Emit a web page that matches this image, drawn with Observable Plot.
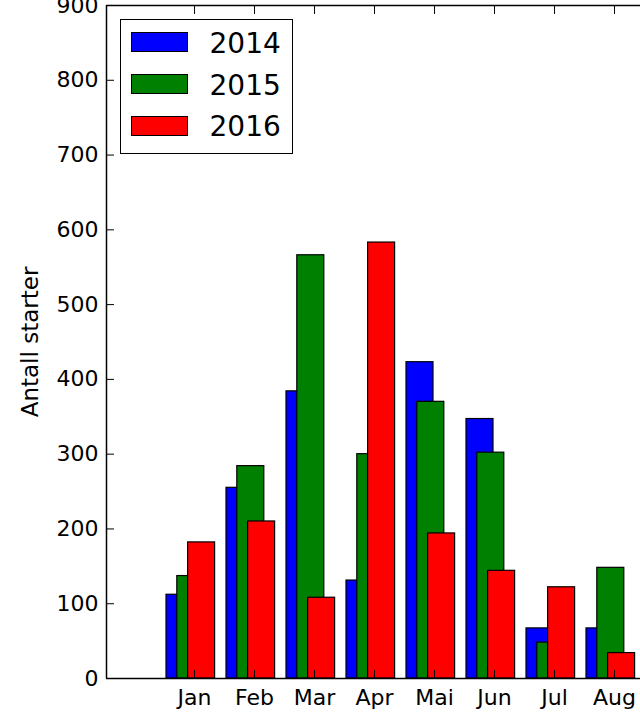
<!DOCTYPE html>
<html>
<head>
<meta charset="utf-8">
<script src="https://cdn.jsdelivr.net/npm/d3@7"></script>
<script src="https://cdn.jsdelivr.net/npm/@observablehq/plot@0.6"></script>
<style>
  body { margin: 0; background: #fff; }
  #wrap { position: relative; width: 640px; height: 713px; overflow: hidden; font-family: "DejaVu Sans", sans-serif; }
  .lg-box { position: absolute; box-sizing: border-box; border: 1.5px solid #000; background: #fff; }
  .lg-patch { position: absolute; box-sizing: border-box; border: 1.5px solid #000; }
  .lg-text { position: absolute; font-size: 28px; line-height: 28px; color: #000; white-space: nowrap; }
</style>
</head>
<body>
<div id="wrap"></div>
<script>
// ---- data ----
const months = ["Jan", "Feb", "Mar", "Apr", "Mai", "Jun", "Jul", "Aug"];
const years = ["2014", "2015", "2016"];
const colors = ["#0000ff", "#008000", "#ff0000"];
const v2014 = [112, 255, 384, 131, 423, 347, 67, 67];
const v2015 = [137, 284, 566, 300, 370, 302, 48, 148];
const v2016 = [182, 210, 108, 583, 194, 144, 122, 34];
const yTicks = [0, 100, 200, 300, 400, 500, 600, 700, 800, 900];
const yLabel = "Antall starter";

// ---- layout (style) ----
const barWidth = 0.45;
const barOffset = 0.18;
const tickShift = 0.467;

const series = [v2014, v2015, v2016];
const data = [];
series.forEach((vals, s) => {
  vals.forEach((v, i) => {
    const m = i + 1;
    data.push({year: years[s], month: months[i], x1: m + s * barOffset, x2: m + s * barOffset + barWidth, value: v});
  });
});
const xTicks = months.map((_, i) => i + 1 + tickShift);
const monthAt = new Map(xTicks.map((t, i) => [t, months[i]]));

const W = 640, H = 713, ML = 106, MT = 5, MB = 35;
const pxPerUnit = 60;

const chart = Plot.plot({
  width: W,
  height: H,
  marginLeft: ML,
  marginRight: 0,
  marginTop: MT,
  marginBottom: MB,
  style: {fontFamily: "DejaVu Sans", fontSize: "22px", color: "#000", background: "#fff"},
  x: {domain: [0, (W - ML) / pxPerUnit]},
  y: {domain: [0, 900]},
  color: {domain: years, range: colors},
  marks: [
    Plot.rectY(data, {x1: "x1", x2: "x2", y1: 0, y2: "value", fill: "year", stroke: "#000", strokeWidth: 1.2}),
    Plot.ruleX([0], {stroke: "#000", strokeWidth: 1.5}),
    Plot.ruleY([0, 900], {stroke: "#000", strokeWidth: 1.5}),
    Plot.axisY({ticks: yTicks, tickSize: -8, tickPadding: 16, tickFormat: d => String(d), label: null, stroke: "#000", strokeOpacity: 1}),
    Plot.axisX({anchor: "bottom", ticks: xTicks, tickSize: -8, tickPadding: 18.4, tickFormat: d => monthAt.get(d) ?? "", label: null, strokeOpacity: 1}),
    Plot.axisX({anchor: "top", ticks: xTicks, tickSize: -8, tickFormat: () => "", label: null, strokeOpacity: 1}),
    Plot.text([yLabel], {text: d => d, frameAnchor: "left", textAnchor: "middle", rotate: -90, dx: -76, fontSize: 23, fill: "#000"})
  ]
});

const wrap = document.getElementById("wrap");
wrap.appendChild(chart);

// ---- legend (inside the axes, upper left) ----
const box = document.createElement("div");
box.className = "lg-box";
Object.assign(box.style, {left: "120px", top: "18.5px", width: "173px", height: "135.5px"});
wrap.appendChild(box);
years.forEach((y, i) => {
  const p = document.createElement("div");
  p.className = "lg-patch";
  Object.assign(p.style, {left: "131px", top: (32.3 + 41.9 * i) + "px", width: "57px", height: "20px", background: colors[i]});
  wrap.appendChild(p);
  const t = document.createElement("div");
  t.className = "lg-text";
  t.textContent = y;
  Object.assign(t.style, {left: "209.5px", top: (29.6 + 41.9 * i) + "px"});
  wrap.appendChild(t);
});
</script>
</body>
</html>
